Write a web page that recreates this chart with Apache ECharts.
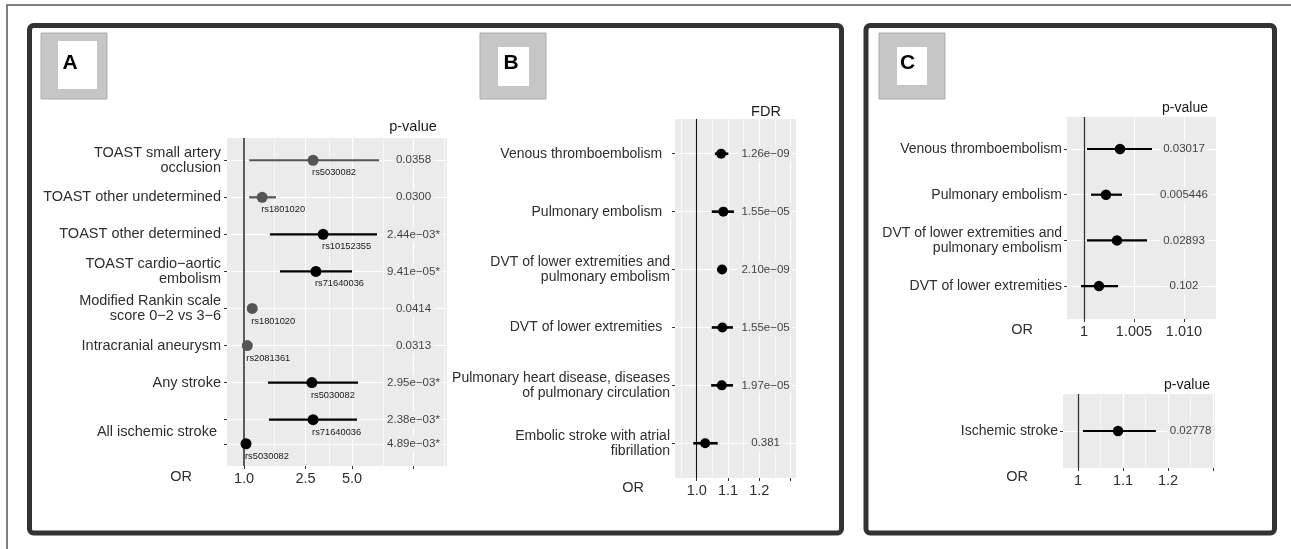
<!DOCTYPE html>
<html>
<head>
<meta charset="utf-8">
<script src="https://cdn.jsdelivr.net/npm/echarts@6/dist/echarts.min.js"></script>
<style>
  html, body { margin: 0; padding: 0; background: #fff; }
  #chart { width: 1291px; height: 549px; }
</style>
</head>
<body>
<div id="chart"></div>
<script>
// ---------- Panel A: stroke outcomes by SNP (odds ratio, log scale) ----------
const aOutcomes = [
  'TOAST small artery\nocclusion',
  'TOAST other undetermined',
  'TOAST other determined',
  'TOAST cardio-aortic\nembolism',
  'Modified Rankin scale\nscore 0-2 vs 3-6',
  'Intracranial aneurysm',
  'Any stroke',
  'All ischemic stroke ',
  'All ischemic stroke '
];
const aRowPos = [1, 2, 3, 4, 5, 6, 7, 8, 8.65];
const aOR     = [2.80, 1.31, 3.25, 2.92, 1.13, 1.05, 2.75, 2.80, 1.03];
const aLower  = [1.08, 1.08, 1.47, 1.71, 1.10, 1.02, 1.43, 1.45, 1.00];
const aUpper  = [7.48, 1.61, 7.26, 5.00, 1.16, 1.08, 5.47, 5.39, 1.06];
const aSnp    = ['rs5030082', 'rs1801020', 'rs10152355', 'rs71640036', 'rs1801020',
                 'rs2081361', 'rs5030082', 'rs71640036', 'rs5030082'];
const aPval   = ['0.0358', '0.0300', '2.44e-03*', '9.41e-05*', '0.0414', '0.0313',
                 '2.95e-03*', '2.38e-03*', '4.89e-03*'];
const aTickValues = [1, 2.5, 5];
const aTickLabels = ['1.0', '2.5', '5.0'];

// ---------- Panel B: venous thromboembolism phenotypes ----------
const bOutcomes = [
  'Venous thromboembolism  ',
  'Pulmonary embolism  ',
  'DVT of lower extremities and\npulmonary embolism',
  'DVT of lower extremities  ',
  'Pulmonary heart disease, diseases\nof pulmonary circulation',
  'Embolic stroke with atrial\nfibrillation'
];
const bOR    = [1.078, 1.085, 1.081, 1.082, 1.080, 1.027];
const bLower = [1.058, 1.048, 1.065, 1.048, 1.046, 0.989];
const bUpper = [1.101, 1.119, 1.097, 1.116, 1.116, 1.067];
const bFdr   = ['1.26e-09', '1.55e-05', '2.10e-09', '1.55e-05', '1.97e-05', '0.381'];
const bTickValues = [1.0, 1.1, 1.2];
const bTickLabels = ['1.0', '1.1', '1.2'];

// ---------- Panel C (upper): venous thromboembolism ----------
const cOutcomes = [
  'Venous thromboembolism',
  'Pulmonary embolism',
  'DVT of lower extremities and\npulmonary embolism',
  'DVT of lower extremities'
];
const cOR    = [1.0036, 1.0022, 1.0033, 1.0015];
const cLower = [1.0003, 1.0007, 1.0003, 0.9997];
const cUpper = [1.0068, 1.0038, 1.0063, 1.0034];
const cPval  = ['0.03017', '0.005446', '0.02893', '0.102'];
const cTickValues = [1, 1.005, 1.010];
const cTickLabels = ['1', '1.005', '1.010'];

// ---------- Panel C (lower): ischemic stroke ----------
const dOutcomes = ['Ischemic stroke'];
const dOR    = [1.089];
const dLower = [1.011];
const dUpper = [1.173];
const dPval  = ['0.02778'];
const dTickValues = [1, 1.1, 1.2];
const dTickLabels = ['1', '1.1', '1.2'];

// ---------- drawing ----------
const FONT = '"Liberation Sans", Arial, Helvetica, sans-serif';
const PANEL_BG = '#EBEBEB';
const TEXT = '#2e2e2e';
const toMinus = s => s.replace(/-/g, '\u2212');
const seq = arr => arr.map((_, i) => i + 1);

// one axis label per distinct outcome, centred across its rows
function outcomeLabels(outcomes, rows) {
  const groups = [];
  outcomes.forEach((name, i) => {
    let g = groups.find(x => x.name === name);
    if (!g) { g = { name, rows: [] }; groups.push(g); }
    g.rows.push(rows[i]);
  });
  return groups.map(g => ({ name: g.name, pos: g.rows.reduce((a, b) => a + b, 0) / g.rows.length }));
}

// minor grid lines halfway between major breaks (geometric halfway on log axes)
function minorBreaks(breaks, isLog, lo, hi) {
  const ext = breaks.slice();
  if (isLog) {
    const r0 = breaks[1] / breaks[0], r1 = breaks[breaks.length - 1] / breaks[breaks.length - 2];
    ext.unshift(breaks[0] / r0); ext.push(breaks[breaks.length - 1] * r1);
  } else {
    const s0 = breaks[1] - breaks[0], s1 = breaks[breaks.length - 1] - breaks[breaks.length - 2];
    ext.unshift(breaks[0] - s0); ext.push(breaks[breaks.length - 1] + s1);
  }
  const out = [];
  for (let i = 0; i < ext.length - 1; i++) {
    const m = isLog ? Math.sqrt(ext[i] * ext[i + 1]) : (ext[i] + ext[i + 1]) / 2;
    if (m > lo && m < hi) out.push(+m.toFixed(6));
  }
  return out;
}

const aRowColor = aPval.map(p => p.indexOf('*') >= 0 ? '#000000' : '#555555');

const panels = [
  { outcomes: aOutcomes, rows: aRowPos, or: aOR, lo: aLower, hi: aUpper, stat: aPval, snp: aSnp,
    colors: aRowColor, tickValues: aTickValues, tickLabels: aTickLabels, statX: 12.5,
    breaks: [1, 2.5, 5, 12.5], isLog: true, xMin: 0.776, xMax: 20.6, yMin: 0.4, yMax: 9.25,
    grid: { left: 227, top: 138, width: 220, height: 328 }, dot: 11, whisker: 2.2, refWidth: 1.6,
    refColor: '#333', yMargin: 6, yFont: 14.5 },
  { outcomes: bOutcomes, rows: seq(bOutcomes), or: bOR, lo: bLower, hi: bUpper, stat: bFdr,
    colors: bOR.map(() => '#000'), tickValues: bTickValues, tickLabels: bTickLabels, statX: 1.22,
    breaks: [1.0, 1.1, 1.2, 1.3], isLog: false, xMin: 0.9307, xMax: 1.317, yMin: 0.4, yMax: 6.6,
    grid: { left: 675, top: 119, width: 121, height: 359 }, dot: 10, whisker: 2.6, refWidth: 1.1,
    refColor: '#111', yMargin: 5, yFont: 14 },
  { outcomes: cOutcomes, rows: seq(cOutcomes), or: cOR, lo: cLower, hi: cUpper, stat: cPval,
    colors: cOR.map(() => '#000'), tickValues: cTickValues, tickLabels: cTickLabels, statX: 1.0100,
    breaks: [1, 1.005, 1.010, 1.015], isLog: false, xMin: 0.9983, xMax: 1.0132, yMin: 0.30, yMax: 4.72,
    grid: { left: 1067, top: 117, width: 149, height: 202 }, dot: 10.5, whisker: 2.2, refWidth: 1.3,
    refColor: '#333', yMargin: 5, yFont: 14 },
  { outcomes: dOutcomes, rows: seq(dOutcomes), or: dOR, lo: dLower, hi: dUpper, stat: dPval,
    colors: dOR.map(() => '#000'), tickValues: dTickValues, tickLabels: dTickLabels, statX: 1.25,
    breaks: [1, 1.1, 1.2, 1.3], isLog: false, xMin: 0.9667, xMax: 1.3044, yMin: 0.5, yMax: 1.5,
    grid: { left: 1063, top: 394, width: 152, height: 74 }, dot: 10.5, whisker: 2.2, refWidth: 1.3,
    refColor: '#333', yMargin: 5, yFont: 14 }
];

const grids = [], xAxes = [], yAxes = [], series = [];

panels.forEach((p, k) => {
  grids.push(Object.assign({ show: true, backgroundColor: PANEL_BG, borderWidth: 0, containLabel: false,
    outerBoundsMode: 'none' }, p.grid));

  xAxes.push({
    gridIndex: k, type: p.isLog ? 'log' : 'value', logBase: 10, min: p.xMin, max: p.xMax,
    axisLine: { show: false },
    axisTick: { show: true, customValues: p.breaks, length: 3, lineStyle: { color: '#333', width: 1 } },
    axisLabel: {
      customValues: p.tickValues, margin: 5, fontSize: 14.5, color: TEXT, fontFamily: FONT,
      formatter: v => { const i = p.tickValues.findIndex(t => Math.abs(t - v) < 1e-9); return i >= 0 ? p.tickLabels[i] : ''; }
    },
    splitLine: { show: true, lineStyle: { color: '#ffffff', width: 1.2 } },
    minorTick: { show: false }, minorSplitLine: { show: false }
  });

  const labs = outcomeLabels(p.outcomes, p.rows);
  yAxes.push({
    gridIndex: k, type: 'value', inverse: true, min: p.yMin, max: p.yMax,
    axisLine: { show: false },
    axisTick: { show: true, customValues: p.rows, length: 3, lineStyle: { color: '#333', width: 1 } },
    axisLabel: {
      customValues: labs.map(l => l.pos), margin: p.yMargin, fontSize: p.yFont, lineHeight: 15,
      color: TEXT, fontFamily: FONT, align: 'right',
      formatter: v => { const l = labs.find(x => Math.abs(x.pos - v) < 1e-9); return l ? toMinus(l.name) : ''; }
    },
    splitLine: { show: true, lineStyle: { color: '#ffffff', width: 1.2 } },
    minorSplitLine: { show: false }
  });

  // minor grid lines and the OR = 1 reference line, kept beneath the marks
  const minors = minorBreaks(p.breaks, p.isLog, p.xMin, p.xMax);
  series.push({
    type: 'line', xAxisIndex: k, yAxisIndex: k, data: [], z: 1, silent: true, animation: false,
    markLine: {
      z: 1, silent: true, animation: false, symbol: ['none', 'none'], label: { show: false },
      emphasis: { disabled: true },
      data: minors.map(v => ({ xAxis: v, lineStyle: { color: '#ffffff', width: 0.6, type: 'solid' } }))
        .concat([{ xAxis: 1, lineStyle: { color: p.refColor, width: p.refWidth, type: 'solid' } }])
    }
  });

  // confidence-interval whiskers
  series.push({
    type: 'custom', xAxisIndex: k, yAxisIndex: k, z: 3, silent: true, animation: false,
    encode: { x: [0, 1], y: 2 },
    data: p.or.map((_, i) => ({ value: [p.lo[i], p.hi[i], p.rows[i]], itemStyle: { color: p.colors[i] } })),
    renderItem: (params, api) => {
      const y = api.value(2);
      const a = api.coord([api.value(0), y]);
      const b = api.coord([api.value(1), y]);
      return { type: 'line', shape: { x1: a[0], y1: a[1], x2: b[0], y2: b[1] },
               style: { stroke: api.visual('color'), lineWidth: p.whisker } };
    }
  });

  // point estimates (with SNP tags in panel A)
  series.push({
    type: 'scatter', xAxisIndex: k, yAxisIndex: k, z: 4, silent: true, animation: false,
    symbol: 'circle', symbolSize: p.dot,
    emphasis: { disabled: true },
    data: p.or.map((v, i) => ({ value: [v, p.rows[i]], itemStyle: { color: p.colors[i], opacity: 1 } })),
    label: p.snp ? {
      show: true, formatter: q => p.snp[q.dataIndex],
      position: [p.dot / 2 - 1, p.dot / 2 + 12.5], align: 'left', verticalAlign: 'middle',
      fontSize: 9.3, color: '#1a1a1a', fontFamily: FONT
    } : { show: false }
  });

  // p-value / FDR column
  series.push({
    type: 'scatter', xAxisIndex: k, yAxisIndex: k, z: 5, silent: true, animation: false,
    symbolSize: 1, itemStyle: { color: 'rgba(0,0,0,0)' },
    emphasis: { disabled: true },
    data: p.stat.map((_, i) => [p.statX, p.rows[i]]),
    label: {
      show: true, position: 'inside', align: 'center', verticalAlign: 'middle',
      formatter: q => toMinus(p.stat[q.dataIndex]),
      fontSize: 11.5, color: '#111', fontFamily: FONT,
      backgroundColor: PANEL_BG, padding: [2, 3]
    }
  });
});

function txt(text, x, y, size, opts) {
  return {
    type: 'text', x: x, y: y, silent: true,
    style: Object.assign({ text: text, fill: '#1a1a1a', fontSize: size, fontFamily: FONT,
      align: 'center', verticalAlign: 'middle', textAlign: 'center', textVerticalAlign: 'middle' }, opts || {})
  };
}
function box(x, y, w, h, fill, stroke, lw, r) {
  return { type: 'rect', silent: true, shape: { x: x, y: y, width: w, height: h, r: r || 0 },
           style: { fill: fill, stroke: stroke, lineWidth: lw } };
}
function tag(letter, gx, wx, wy, ww, wh, lx) {
  return [
    box(gx, 33, 66, 66, '#c6c6c6', '#adadad', 1),
    box(wx, wy, ww, wh, '#ffffff', null, 0),
    txt(letter, lx, 63, 21, { fontWeight: 'bold', fill: '#000' })
  ];
}

const graphics = [
  box(7, 5, 1300, 600, 'none', '#555', 1.5),
  box(29.5, 25.5, 812, 507.5, 'none', '#333', 5, 4),
  box(866, 25.5, 408.5, 507.5, 'none', '#333', 5, 4)
].concat(
  tag('A', 41, 58, 41, 39, 48, 70),
  tag('B', 480, 498, 47, 31, 39, 511),
  tag('C', 879, 897, 47, 30, 38, 907.5),
  [
    txt('p-value', 413, 127, 14.5),
    txt('FDR', 766, 112, 14.5),
    txt('p-value', 1185, 108, 14),
    txt('p-value', 1187, 385, 14),
    txt('OR', 181, 477, 14.5, { fill: TEXT }),
    txt('OR', 633, 488, 14.5, { fill: TEXT }),
    txt('OR', 1022, 330, 14.5, { fill: TEXT }),
    txt('OR', 1017, 477, 14.5, { fill: TEXT })
  ]
);

const chart = echarts.init(document.getElementById('chart'), null, { renderer: 'canvas' });
chart.setOption({
  animation: false,
  backgroundColor: '#ffffff',
  grid: grids,
  xAxis: xAxes,
  yAxis: yAxes,
  series: series,
  graphic: { elements: graphics }
});
</script>
</body>
</html>
